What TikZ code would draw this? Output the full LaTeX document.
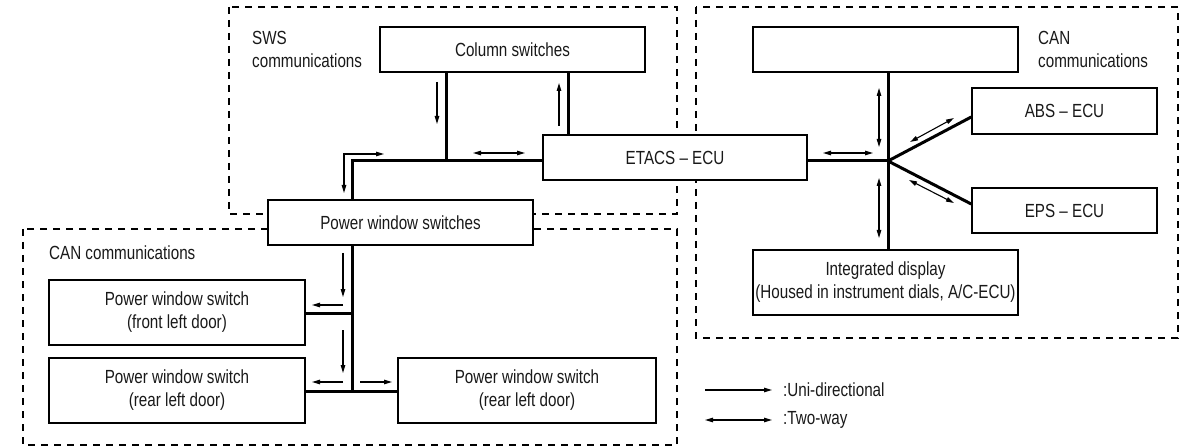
\documentclass[tikz,border=0pt]{standalone}
\usepackage{fontspec}
\setmainfont{Liberation Sans}[FakeStretch=0.8]
\usetikzlibrary{arrows.meta}
\begin{document}
\begin{tikzpicture}[x=1pt,y=-1pt,
  every node/.style={font=\fontsize{19}{23}\selectfont, text=black!90},
  box/.style={draw, line width=1.5pt, fill=white, inner sep=0pt, align=center},
  zone/.style={draw, line width=1.2pt, dash pattern=on 7pt off 6pt},
  bus/.style={line width=3pt},
  uni/.style={line width=1.1pt, -{Triangle[length=8pt,width=4.5pt]}},
  two/.style={line width=1.1pt, {Triangle[length=8pt,width=4.5pt]}-{Triangle[length=8pt,width=4.5pt]}},
  lbl/.style={align=left, inner sep=0pt, anchor=north west}
]
\useasboundingbox (0,0) rectangle (1201,446);

% dashed zones
\draw[zone] (229,7) rectangle (677,214);
\draw[zone] (696,7) rectangle (1178,338);
\draw[zone] (23,229) rectangle (677,445);

% zone labels
\node[lbl] (swslbl) at (252,31) {SWS\\communications};
\node[lbl] (canr) at (1038,31) {CAN\\communications};
\node[anchor=west, inner sep=0pt] (canl) at (49,253) {CAN communications};

% junction coordinates
\coordinate (jc) at (446,161);
\coordinate (jl) at (352,161);
\coordinate (je) at (568,161);
\coordinate (jr) at (888,161);
\coordinate (jf) at (352,313);
\coordinate (jb) at (352,391);

% boxes
\node[box, minimum width=265pt, minimum height=45pt] (col) at (512.5,49.5) {Column switches};
\node[box, minimum width=265pt, minimum height=45pt] (top) at (885.5,49.5) {};
\node[box, minimum width=264pt, minimum height=45pt] (etacs) at (675,157.5) {ETACS – ECU};
\node[box, minimum width=185pt, minimum height=46pt] (abs) at (1064.5,111) {ABS – ECU};
\node[box, minimum width=185pt, minimum height=45pt] (eps) at (1064.5,210.5) {EPS – ECU};
\node[box, minimum width=265pt, minimum height=65pt] (disp) at (885.5,282.5) {Integrated display\\(Housed in instrument dials, A/C-ECU)};
\node[box, minimum width=265pt, minimum height=45pt] (pws) at (400.5,222.5) {Power window switches};
\node[box, minimum width=256pt, minimum height=65pt] (pwfl) at (177,312.5) {Power window switch\\(front left door)};
\node[box, minimum width=256pt, minimum height=65pt] (pwrl) at (177,390.5) {Power window switch\\(rear left door)};
\node[box, minimum width=258pt, minimum height=65pt] (pwrr) at (527,390.5) {Power window switch\\(rear left door)};

% bus lines
\draw[bus] (col.south -| jc) -- (jc);
\draw[bus] (pws.north -| jl) -- (jl) -- (jl -| etacs.west);
\draw[bus] (col.south -| je) -- (etacs.north -| je);
\draw[bus] (etacs.east |- jr) -- (jr);
\draw[bus] (top.south -| jr) -- (disp.north -| jr);
\draw[bus] (jr) -- (abs.west |- 0,117);
\draw[bus] (jr) -- (eps.west |- 0,204);
\draw[bus] (pws.south -| jb) -- (jb);
\draw[bus] (pwfl.east |- jf) -- (jf);
\draw[bus] (pwrl.east |- jb) -- (pwrr.west |- jb);

% direction arrows
\draw[uni] (437,82) -- (437,124);
\draw[uni] (559,126) -- (559,83);
\draw[two] (473,153) -- (525,153);
\draw[two] (344,193) -- (344,154) -- (384,154);
\draw[two] (823,153) -- (873,153);
\draw[two] (879,88) -- (879,147);
\draw[two] (879,178) -- (879,238);
\draw[two] (910,142) -- (954,118);
\draw[two] (909,180) -- (954,203);
\draw[uni] (343,253) -- (343,297);
\draw[uni] (343,305) -- (312,305);
\draw[uni] (343,330) -- (343,373);
\draw[uni] (343,382) -- (312,382);
\draw[uni] (360,382) -- (392,382);

% legend
\coordinate (lu1) at (705,390);
\coordinate (lu2) at (772,390);
\coordinate (lt1) at (705,420);
\coordinate (lt2) at (772,420);
\draw[uni] (lu1) -- (lu2);
\draw[two] (lt1) -- (lt2);
\node[anchor=west, inner sep=0pt] (legu) at (783,390) {:Uni-directional};
\node[anchor=west, inner sep=0pt] (legt) at (783,420) {:Two-way};
\end{tikzpicture}
\end{document}
